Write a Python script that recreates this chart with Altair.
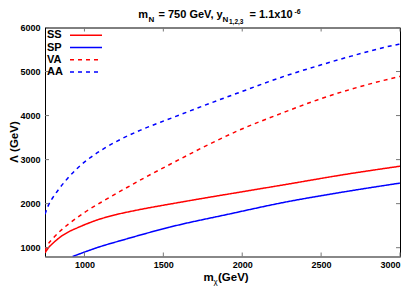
import altair as alt
import pandas as pd

# ---- data ----
series_names = ["SS", "SP", "VA", "AA"]
series_colors = ["#ff0000", "#0000ff", "#ff0000", "#0000ff"]
series_dashes = [[1, 0], [1, 0], [4, 4], [4, 4]]

ss_x = [750, 770, 800, 850, 900, 954, 1000, 1081, 1200, 1350, 1541, 1750, 2000, 2300, 2628, 3000]
ss_y = [880, 990, 1100, 1250, 1360, 1450, 1520, 1630, 1750, 1865, 1990, 2120, 2270, 2450, 2650, 2850]

sp_x = [925, 1000, 1060, 1271, 1541, 1921, 2269, 2628, 3000]
sp_y = [800, 900, 977, 1203, 1467, 1767, 2032, 2257, 2467]

va_x = [750, 765, 800, 850, 900, 1000, 1134, 1261, 1387, 1573, 1752, 1963, 2269, 2480, 2691, 2965, 3000]
va_y = [930, 1050, 1210, 1390, 1540, 1800, 2090, 2350, 2600, 2950, 3280, 3640, 4080, 4360, 4600, 4860, 4890]

aa_x = [750, 770, 800, 840, 890, 954, 1039, 1123, 1229, 1356, 1482, 1556, 1752, 1963, 2290, 2480, 2691, 2965, 3000]
aa_y = [1760, 1950, 2140, 2340, 2560, 2800, 3050, 3250, 3460, 3670, 3850, 3950, 4220, 4500, 4920, 5130, 5350, 5600, 5625]

x_ticks = [1000, 1500, 2000, 2500, 3000]
y_ticks = [1000, 2000, 3000, 4000, 5000, 6000]
x_domain = [750, 3000]
y_domain = [800, 6000]

W, H = 355, 229
FONT = "Liberation Sans"

rows = []
for name, xs, ys in [("SS", ss_x, ss_y), ("SP", sp_x, sp_y), ("VA", va_x, va_y), ("AA", aa_x, aa_y)]:
    for i, (a, b) in enumerate(zip(xs, ys)):
        rows.append({"series": name, "mchi": a, "lam": b, "order": i})
df = pd.DataFrame(rows)

xscale = alt.Scale(domain=x_domain, nice=False, zero=False)
yscale = alt.Scale(domain=y_domain, nice=False, zero=False)

lines = alt.Chart(df).mark_line(strokeWidth=1.5, clip=True, interpolate="monotone").encode(
    x=alt.X("mchi:Q", scale=xscale, axis=alt.Axis(
        values=x_ticks, title=None, grid=False, tickSize=0, labelPadding=4,
        labelFont=FONT, labelFontWeight="bold", labelFontSize=9, labelColor="black",
        domain=True, domainColor="#888888", domainWidth=2, format="d")),
    y=alt.Y("lam:Q", scale=yscale, axis=alt.Axis(
        values=y_ticks, title=None, grid=False, tickSize=0, labelPadding=5,
        labelFont=FONT, labelFontWeight="bold", labelFontSize=9, labelColor="black",
        domain=False, format="d")),
    color=alt.Color("series:N", scale=alt.Scale(domain=series_names, range=series_colors), legend=None),
    strokeDash=alt.StrokeDash("series:N", scale=alt.Scale(domain=series_names, range=series_dashes), legend=None),
    order="order:Q",
    detail="series:N",
)

xt = pd.DataFrame({"v": x_ticks})
yt = pd.DataFrame({"v": y_ticks})
tick_layers = [
    alt.Chart(xt).mark_rule(color="#777777", strokeWidth=1).encode(
        x=alt.X("v:Q", scale=xscale), y=alt.value(H), y2=alt.value(H - 4)),
    alt.Chart(xt).mark_rule(color="#777777", strokeWidth=1).encode(
        x=alt.X("v:Q", scale=xscale), y=alt.value(0), y2=alt.value(4)),
    alt.Chart(yt).mark_rule(color="#777777", strokeWidth=1).encode(
        y=alt.Y("v:Q", scale=yscale), x=alt.value(0), x2=alt.value(4)),
    alt.Chart(yt).mark_rule(color="#777777", strokeWidth=1).encode(
        y=alt.Y("v:Q", scale=yscale), x=alt.value(W - 4), x2=alt.value(W)),
]

one = pd.DataFrame({"a": [0]})


def txt(s, x, y, size, align="left", baseline="alphabetic", angle=0, weight="bold"):
    kw = dict(text=s, font=FONT, fontSize=size, fontWeight=weight, color="black",
              align=align, baseline=baseline)
    if angle:
        kw["angle"] = angle
    return alt.Chart(one).mark_text(**kw).encode(x=alt.value(x), y=alt.value(y))


OX, OY = 45, 27.5  # plot origin in page pixels

# legend (label first, then line sample)
legend_layers = []
leg_y = [7.7, 20.0, 32.3, 44.6]
for name, col, dash, ly in zip(series_names, series_colors, series_dashes, leg_y):
    legend_layers.append(txt(name, 2, ly, 11, baseline="middle"))
    legend_layers.append(
        alt.Chart(one).mark_rule(color=col, strokeWidth=1.5, strokeDash=dash).encode(
            x=alt.value(25), x2=alt.value(57), y=alt.value(ly)))

# title with sub/superscripts (kept below the 8px page margin)
TB = 18.0
title_layers = [
    txt("m", 138.3 - OX, TB - OY, 11),
    txt("N", 148.5 - OX, TB + 3.5 - OY, 8),
    txt("= 750 GeV, y", 158.5 - OX, TB - OY, 11),
    txt("N", 222.5 - OX, TB + 3.5 - OY, 8),
    txt("1,2,3", 229 - OX, TB + 6 - OY, 6.5),
    txt("= 1.1x10", 249.5 - OX, TB - OY, 11),
    txt("-6", 294.5 - OX, TB - 4.5 - OY, 7),
]

# x axis title m_chi(GeV)
xtitle_layers = [
    txt("m", 203.5 - OX, 280.5 - OY, 11.5),
    txt("χ", 213.5 - OX, 283.5 - OY, 8, weight="normal"),
    txt("(GeV)", 218 - OX, 280.5 - OY, 11.5),
]

ytitle = txt("Λ (GeV)", 14.5 - OX, 142 - OY, 11.5, align="center", baseline="middle", angle=270)

chart = alt.layer(
    lines, *tick_layers, *legend_layers, *title_layers, *xtitle_layers, ytitle
).properties(
    width=W, height=H,
    autosize=alt.AutoSizeParams(type="none"),
    padding={"left": OX - 8, "top": OY - 8, "right": 7, "bottom": 34},
).configure_view(stroke="black", strokeWidth=1)

chart.save("out.html", embed_options={"renderer": "svg", "actions": False})
